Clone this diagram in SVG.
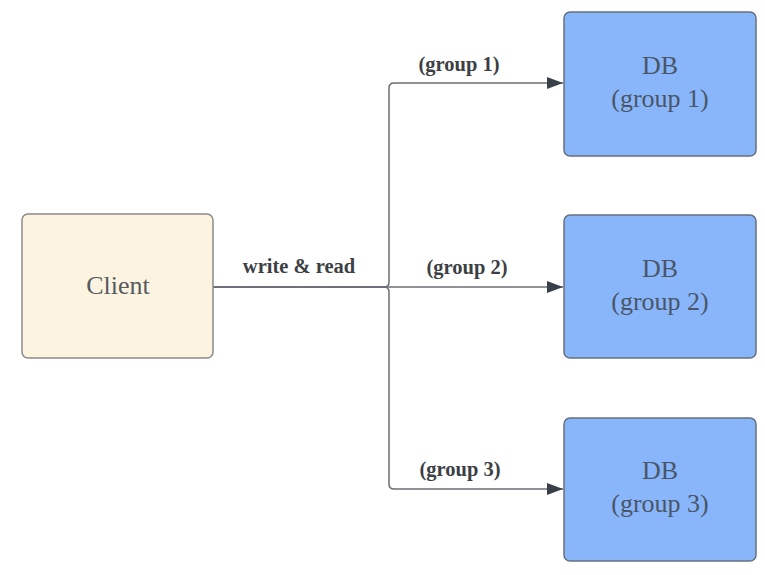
<svg xmlns="http://www.w3.org/2000/svg" width="765" height="575" viewBox="0 0 765 575">
<style>
.client{fill:#fcf4e0;stroke:#8a8a8a;stroke-width:1.5}
.db{fill:#89b6fa;stroke:#64707f;stroke-width:1.5}
.nt{font-family:"Liberation Serif",serif;font-size:26px;text-anchor:middle}
.ct{fill:#555a60}
.dt{fill:#4a5668}
.lbl{font-family:"Liberation Serif",serif;font-size:20.5px;font-weight:bold;fill:#3c3f44;text-anchor:middle}
.conn{fill:none;stroke:#6b6f75;stroke-width:1.5}
</style>
<defs>
<marker id="arr" viewBox="0 0 16 12" refX="16" refY="6" markerWidth="16" markerHeight="12" markerUnits="userSpaceOnUse" orient="auto">
<path d="M0,0 L16,6 L0,12 Z" fill="#3a4049"/>
</marker>
</defs>
<rect width="765" height="575" fill="#ffffff"/>
<g id="connectors">
<path class="conn" d="M213,287 H384 Q389,287 389,282 V88 Q389,83 394,83 H563" marker-end="url(#arr)"/>
<path class="conn" d="M213,287 H563" marker-end="url(#arr)"/>
<path class="conn" d="M213,287 H384 Q389,287 389,292 V484 Q389,489 394,489 H563" marker-end="url(#arr)"/>
<text class="lbl" x="299" y="273">write &amp; read</text>
<text class="lbl" x="459" y="71">(group 1)</text>
<text class="lbl" x="467" y="274">(group 2)</text>
<text class="lbl" x="460" y="476">(group 3)</text>
</g>
<g id="client">
<rect class="client" x="22" y="214" width="191" height="144" rx="6"/>
<text class="nt ct" x="118" y="294">Client</text>
</g>
<g id="db1">
<rect class="db" x="564" y="12" width="192" height="144" rx="6"/>
<text class="nt dt" x="660" y="74">DB</text>
<text class="nt dt" x="660" y="107">(group 1)</text>
</g>
<g id="db2">
<rect class="db" x="564" y="215" width="192" height="143" rx="6"/>
<text class="nt dt" x="660" y="277">DB</text>
<text class="nt dt" x="660" y="310">(group 2)</text>
</g>
<g id="db3">
<rect class="db" x="564" y="418" width="192" height="143" rx="6"/>
<text class="nt dt" x="660" y="479">DB</text>
<text class="nt dt" x="660" y="512">(group 3)</text>
</g>
</svg>
